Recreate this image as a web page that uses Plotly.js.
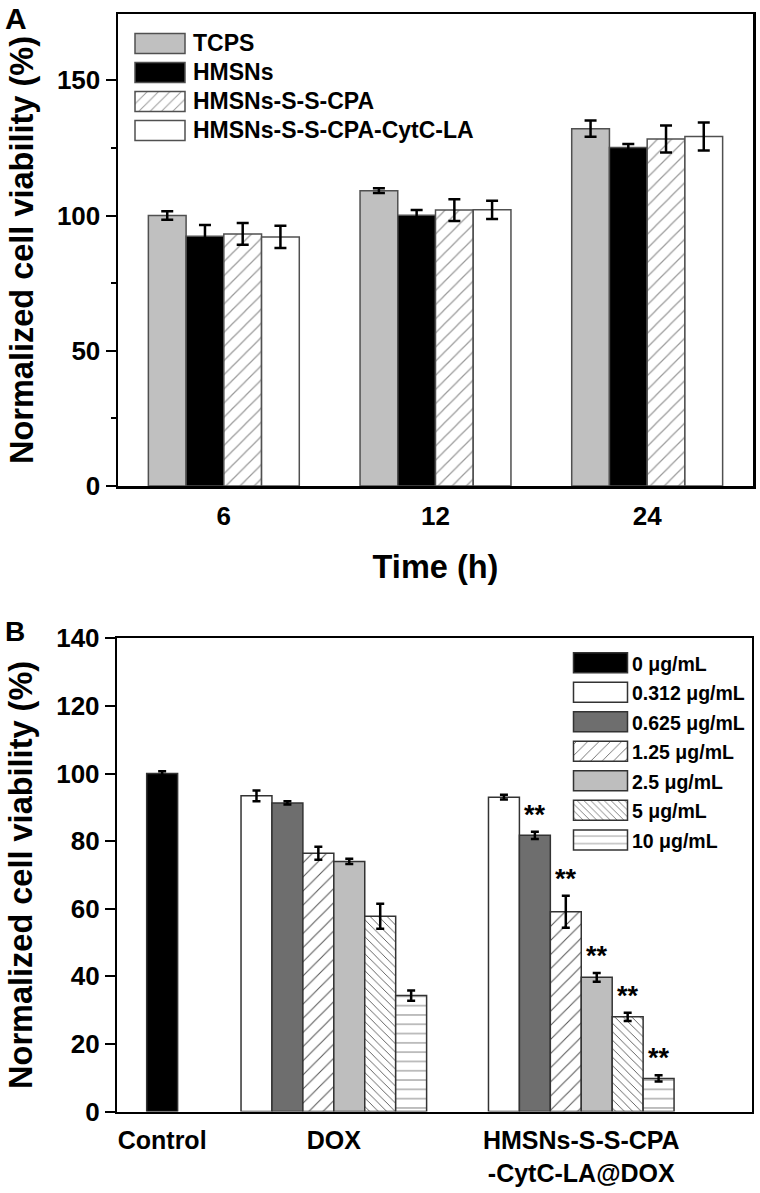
<!DOCTYPE html>
<html><head><meta charset="utf-8">
<script src="https://cdn.plot.ly/plotly-3.0.1.min.js"></script>
<style>html,body{margin:0;padding:0;background:#fff}#chart{width:760px;height:1193px}</style>
</head><body><div id="chart"></div>
<script>
// ---------- Panel A data ----------
const timeCats = ['6', '12', '24'];
const seriesA = ['TCPS', 'HMSNs', 'HMSNs-S-S-CPA', 'HMSNs-S-S-CPA-CytC-LA'];
const tcpsVals = [100.0, 109.2, 132.1];
const tcpsErr = [1.6, 0.9, 3.0];
const hmsnsVals = [92.3, 100.1, 125.1];
const hmsnsErr = [4.2, 1.9, 1.3];
const cpaVals = [93.2, 102.0, 128.3];
const cpaErr = [4.0, 4.0, 5.0];
const cpaLaVals = [92.1, 102.1, 129.2];
const cpaLaErr = [4.1, 3.4, 5.2];

// ---------- Panel B data ----------
const groupsB = ['Control', 'DOX', 'HMSNs-S-S-CPA<br>-CytC-LA@DOX'];
const concLabels = ['0 μg/mL', '0.312 μg/mL', '0.625 μg/mL', '1.25 μg/mL', '2.5 μg/mL', '5 μg/mL', '10 μg/mL'];
const controlVal = [100.0];
const controlErr = [0.7];
const doxVals = [93.4, 91.3, 76.4, 74.0, 57.8, 34.3];
const doxErr = [1.6, 0.5, 1.9, 0.8, 3.7, 1.5];
const conjVals = [93.0, 81.7, 59.1, 39.7, 28.0, 9.8];
const conjErr = [0.7, 1.1, 4.7, 1.3, 1.2, 0.9];
const conjSig = ['', '**', '**', '**', '**', '**'];

// ---------- layout / style (not data) ----------
const groupPosB = [1.45, 7, 15];   // group centres on panel B x-axis (in bar widths)
const FONT = 'Liberation Sans, Arial, Helvetica, sans-serif';
const W = 760, H = 1193;
const px = v => v / W, py = v => 1 - v / H;

const valsA = [tcpsVals, hmsnsVals, cpaVals, cpaLaVals];
const errsA = [tcpsErr, hmsnsErr, cpaErr, cpaLaErr];
const stylesA = [
  {color: '#c0c0c0'},
  {color: '#000000'},
  {color: '#ffffff', pattern: {shape: '/', fgcolor: '#9a9a9a', bgcolor: '#ffffff', size: 10, solidity: 0.12}},
  {color: '#ffffff'}
];
const stylesB = [
  {color: '#000000'},
  {color: '#ffffff'},
  {color: '#6e6e6e'},
  {color: '#ffffff', pattern: {shape: '/', fgcolor: '#555555', bgcolor: '#ffffff', size: 10, solidity: 0.1}},
  {color: '#bebebe'},
  {color: '#ffffff', pattern: {shape: '\\', fgcolor: '#555555', bgcolor: '#ffffff', size: 6, solidity: 0.15}},
  {color: '#ffffff', pattern: {shape: '-', fgcolor: '#777777', bgcolor: '#ffffff', size: 9.3, solidity: 0.1}}
];

const data = [];
seriesA.forEach((name, i) => {
  data.push({
    type: 'bar', x: timeCats, y: valsA[i],
    name: '<span style="font-size:23px">' + name + '</span>',
    xaxis: 'x', yaxis: 'y', legend: 'legend', legendgroup: 'A' + i,
    marker: Object.assign({line: {color: '#505050', width: 1.5}}, stylesA[i]),
    error_y: {type: 'data', array: errsA[i], visible: true, color: '#000', thickness: 2.5, width: 6}
  });
});

concLabels.forEach((name, k) => {
  let xs, ys, es;
  if (k === 0) {
    xs = [groupPosB[0]]; ys = controlVal; es = controlErr;
  } else {
    const slot = (k - 1) - (doxVals.length - 1) / 2;
    xs = [groupPosB[1] + slot, groupPosB[2] + slot];
    ys = [doxVals[k - 1], conjVals[k - 1]];
    es = [doxErr[k - 1], conjErr[k - 1]];
  }
  data.push({
    type: 'bar', x: xs, y: ys,
    name: '<span style="font-size:19.5px">' + name + '</span>',
    width: 1, offset: -0.5,
    xaxis: 'x2', yaxis: 'y2', legend: 'legend2', legendgroup: 'B' + k,
    marker: Object.assign({line: {color: '#333333', width: 1.5}}, stylesB[k]),
    error_y: {type: 'data', array: es, visible: true, color: '#000', thickness: 2.5, width: 4}
  });
});

const annotations = [];
conjSig.forEach((s, i) => {
  if (!s) return;
  const slot = i - (conjVals.length - 1) / 2;
  annotations.push({
    xref: 'x2', yref: 'y2', x: groupPosB[2] + slot, y: conjVals[i] + conjErr[i],
    text: s, showarrow: false, yanchor: 'bottom', yshift: 0,
    font: {family: FONT, size: 27, weight: 700, color: '#000'}
  });
});
annotations.push({xref: 'paper', yref: 'paper', x: px(16), y: py(18), text: 'A', showarrow: false,
  xanchor: 'center', yanchor: 'middle', font: {family: FONT, size: 30, weight: 700, color: '#000'}});
annotations.push({xref: 'paper', yref: 'paper', x: px(15), y: py(631), text: 'B', showarrow: false,
  xanchor: 'center', yanchor: 'middle', font: {family: FONT, size: 28, weight: 700, color: '#000'}});

const tickFont = {family: FONT, size: 26, weight: 700, color: '#000'};
const titleFont = {family: FONT, size: 32.5, weight: 700, color: '#000'};
const axisCommon = {showline: true, linewidth: 2.5, linecolor: '#000', mirror: true, showgrid: false, zeroline: false};

const layout = {
  width: W, height: H,
  margin: {l: 0, r: 0, t: 0, b: 0},
  paper_bgcolor: '#fff', plot_bgcolor: '#fff',
  barmode: 'group', bargap: 0.287, bargroupgap: 0,
  font: {family: FONT, color: '#000'},
  xaxis: Object.assign({}, axisCommon, {
    domain: [px(118), px(753)], anchor: 'y', type: 'category',
    ticks: '', tickfont: tickFont, ticklabelstandoff: 5,
    title: {text: 'Time (h)', font: titleFont, standoff: 26}
  }),
  yaxis: Object.assign({}, axisCommon, {
    domain: [py(486), py(14)], anchor: 'x', range: [0, 174.5], dtick: 50,
    ticks: 'outside', ticklen: 10, tickwidth: 2, tickcolor: '#000', tickfont: tickFont,
    minor: {dtick: 25, ticks: 'outside', ticklen: 5, tickwidth: 2, tickcolor: '#000'},
    title: {text: 'Normalized cell viability (%)', font: titleFont, standoff: 14}
  }),
  xaxis2: Object.assign({}, axisCommon, {
    domain: [px(117.3), px(751.7)], anchor: 'y2', range: [0, 20.51],
    tickvals: groupPosB, ticktext: groupsB,
    ticks: '', tickfont: {family: FONT, size: 25, weight: 700, color: '#000'}, ticklabelstandoff: 5
  }),
  yaxis2: Object.assign({}, axisCommon, {
    domain: [py(1111.5), py(638.3)], anchor: 'x2', range: [0, 140], dtick: 20,
    ticks: 'outside', ticklen: 10, tickwidth: 2, tickcolor: '#000', tickfont: tickFont,
    title: {text: 'Normalized cell viability (%)', font: titleFont, standoff: 14}
  }),
  legend: {
    x: px(123), xanchor: 'left', y: py(24), yanchor: 'top',
    bgcolor: 'rgba(0,0,0,0)', borderwidth: 0, itemwidth: 60, tracegroupgap: 0,
    traceorder: 'grouped', font: {family: FONT, size: 20, weight: 700, color: '#000'}
  },
  legend2: {
    x: px(562), xanchor: 'left', y: py(643), yanchor: 'top',
    bgcolor: 'rgba(0,0,0,0)', borderwidth: 0, itemwidth: 60, tracegroupgap: 0,
    traceorder: 'grouped', font: {family: FONT, size: 20.4, weight: 700, color: '#000'}
  },
  annotations: annotations,
  showlegend: true
};

function resizeSwatches() {
  document.querySelectorAll('g.traces').forEach(tr => {
    const inB = !!(tr.closest && tr.closest('g.legend2'));
    const hw = inB ? 27 : 25, hh = 10, gap = inB ? 4.5 : 8;
    const p = tr.querySelector('path.legendbar') || tr.querySelector('.legendpoints path');
    if (!p) return;
    const txt = tr.querySelector('text.legendtext');
    let tx = txt ? parseFloat(txt.getAttribute('x')) : NaN;
    if (!isFinite(tx)) tx = 70;
    const d = 'M' + (-hw) + ',' + (-hh) + 'H' + hw + 'V' + hh + 'H' + (-hw) + 'Z';
    if (p.getAttribute('d') !== d) {
      p.setAttribute('d', d);
      p.setAttribute('transform', 'translate(' + (tx - gap - hw) + ',0)');
    }
  });
}

const gdEl = document.getElementById('chart');
const pr = Plotly.newPlot(gdEl, data, layout, {staticPlot: true, displayModeBar: false});
try { resizeSwatches(); } catch (e) {}
if (gdEl.on) gdEl.on('plotly_afterplot', () => { try { resizeSwatches(); } catch (e) {} });
pr.then(() => {
  resizeSwatches();
  [0, 30, 100, 300, 800].forEach(t => setTimeout(resizeSwatches, t));
});
</script>
</body></html>
